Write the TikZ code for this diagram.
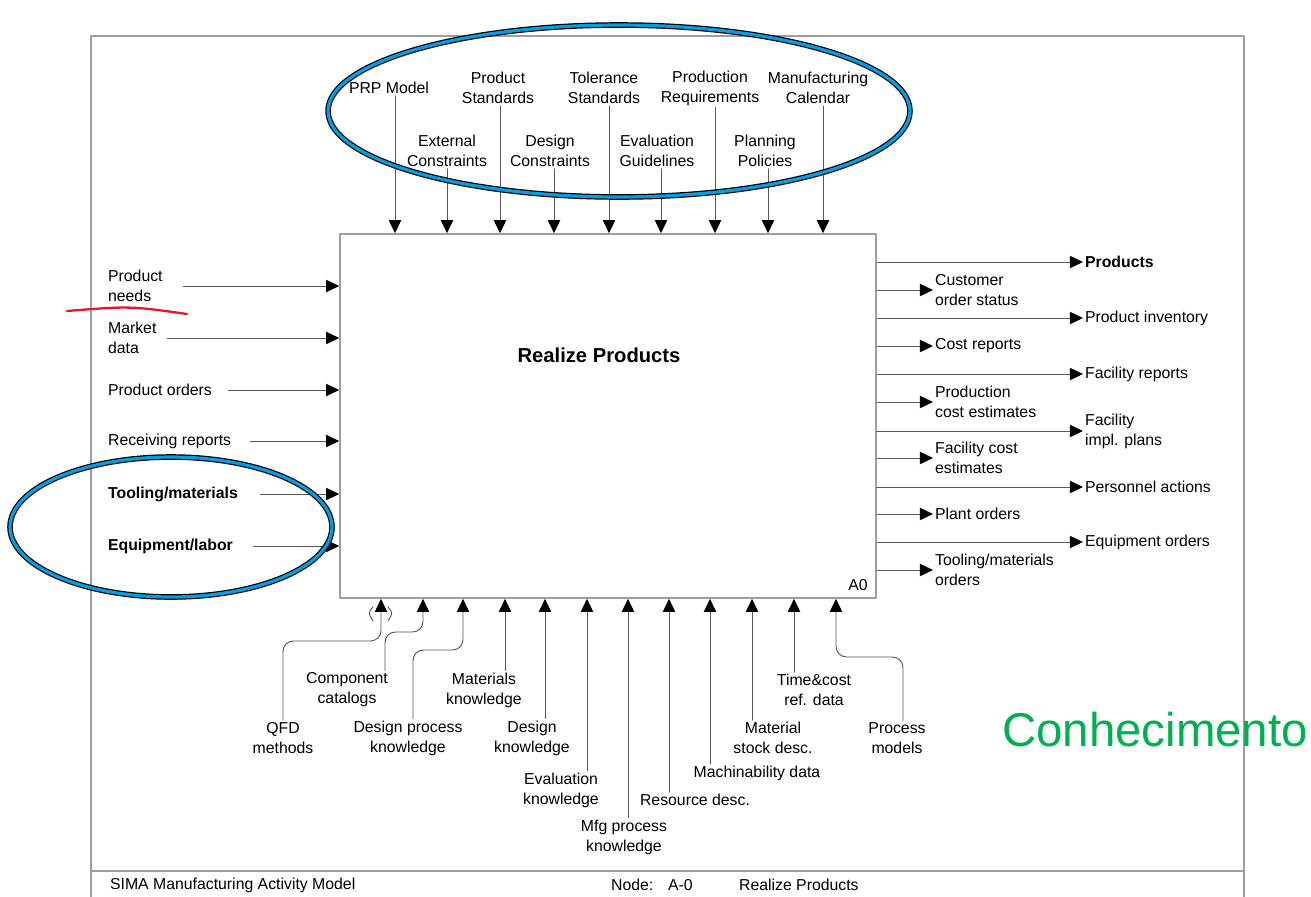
\documentclass[tikz,border=0pt]{standalone}
\usepackage{fontspec}
\setmainfont{Liberation Sans}
\usetikzlibrary{arrows.meta}
\definecolor{lin}{gray}{0.35}
\definecolor{frm}{gray}{0.62}
\definecolor{hlblue}{RGB}{0,160,230}
\definecolor{mkred}{RGB}{232,20,40}
\definecolor{mkgreen}{RGB}{0,176,80}

\begin{document}
\begin{tikzpicture}[line cap=round,line join=round,>={Triangle[length=7.5pt,width=7pt,color=black]},x=0.02cm,y=-0.02cm,
  lbl/.style={font=\fontsize{9}{11.4}\selectfont,inner sep=1pt},
  conn/.style={->,color=lin,line width=0.55pt},
  hlring/.style={draw=black,double=hlblue,double distance=1.8pt,line width=0.7pt}]
        \useasboundingbox (0,0) rectangle (1311,896);
        % frame and footer
        \draw[frm,line width=1.2pt] (91,900) -- (91,36) -- (1244,36) -- (1244,900);
        \draw[frm,line width=1.2pt] (91,871) -- (1244,871);
        \node[lbl,anchor=west] (ftitle) at (108,885) {SIMA Manufacturing Activity Model};
        \node[lbl,anchor=west] (fnode) at (609,885) {Node:};
        \node[lbl,anchor=west] (fnum) at (666,885) {A-0};
        \node[lbl,anchor=west] (fname) at (737,885) {Realize Products};
        % activity box
        \node[draw=frm,line width=0.9pt,minimum width=10.72cm,minimum height=7.28cm,inner sep=0pt] (box) at (608,416) {};
        \node[font=\fontsize{11.5}{14}\selectfont\bfseries] (title) at (599,355) {Realize Products};
        \node[lbl] (a0) at (858,585) {A0};
        % controls
        \foreach \n/\lx/\ly/\ax/\txt in {prp/389/88/395/{PRP Model}, pstd/498/88/500/{Product\\Standards},
            tstd/604/88/609/{Tolerance\\Standards}, preq/710/88/715/{Production\\Requirements},
            mcal/818/88/823/{Manufacturing\\Calendar}, extc/447/151/447/{External\\Constraints},
            dcon/550/151/554/{Design\\Constraints}, evgl/657/151/661/{Evaluation\\Guidelines},
            ppol/765/151/768/{Planning\\Policies}}{
          \node[lbl,align=center] (\n) at (\lx,\ly) {\txt};
          \coordinate (\n-t) at (\ax,0);
          \draw[conn] (\n.south -| \n-t) -- (\n-t |- box.north);
        }
        % inputs
        \foreach \n/\ly/\sx/\txt in {pneeds/286/183/{Product\\needs}, mdata/338/167/{Market\\data},
            porders/390/228/{Product orders}, rrep/441/250/{Receiving reports},
            tool/494/260/{\textbf{Tooling/materials}}, equip/546/253/{\textbf{Equipment/labor}}}{
          \node[lbl,align=left,anchor=west] (\n) at (106,\ly) {\txt};
          \coordinate (\n-s) at (\sx,\ly);
          \draw[conn] (\n-s) -- (\n-s -| box.west);
        }
        % outputs
        \foreach \n/\ly/\lx/\txt in {prod/262/1083/{\textbf{Products}}, cstat/290/933/{Customer\\order status},
            pinv/318/1083/{Product inventory}, crep/346/933/{Cost reports},
            frep/374/1083/{Facility reports}, pcost/402/933/{Production\\cost estimates},
            fimpl/431/1083/{Facility\\impl. plans}, fcost/458/933/{Facility cost\\estimates},
            pers/487/1083/{Personnel actions}, plant/514/933/{Plant orders},
            eqord/542/1083/{Equipment orders}, tmord/570/933/{Tooling/materials\\orders}}{
          \node[lbl,align=left,anchor=west] (\n) at (\lx,\ly) {\txt};
          \draw[conn] (\n.west -| box.east) -- (\n.west);
        }
        % mechanisms
        \foreach \n/\lx/\ly/\ax/\txt in {matk/484/690/505/{Materials\\knowledge}, desk/532/738/545/{Design\\knowledge},
            evk/561/790/587/{Evaluation\\knowledge}, mfgk/624/837/628/{Mfg process\\knowledge},
            resd/695/800/669/{Resource desc.}, mach/757/773/710/{Machinability data},
            mstk/773/738/752/{Material\\stock desc.}, tcost/814/690/794/{Time\&cost\\ref. data}}{
          \node[lbl,align=center] (\n) at (\lx,\ly) {\txt};
          \coordinate (\n-t) at (\ax,0);
          \draw[conn] (\n.north -| \n-t) -- (\n-t |- box.south);
        }
        \node[lbl,align=center] (qfd) at (283,738) {QFD\\methods};
        \coordinate (qfd-t) at (381,641);
        \draw[conn,rounded corners=6pt] (qfd.north) |- (qfd-t) -- (qfd-t |- box.south);
        \draw[lin,line width=0.55pt] (373,607) .. controls (368,613) .. (373,621);
        \draw[lin,line width=0.55pt] (388,607) .. controls (393,613) .. (388,621);
        \node[lbl,align=center] (comp) at (347,690) {Component\\catalogs};
        \coordinate (comp-s) at (385,0);
        \coordinate (comp-t) at (423,632);
        \draw[conn,rounded corners=6pt] (comp.north -| comp-s) |- (comp-t) -- (comp-t |- box.south);
        \node[lbl,align=center] (dpk) at (408,738) {Design process\\knowledge};
        \coordinate (dpk-s) at (413,0);
        \coordinate (dpk-t) at (463,650);
        \draw[conn,rounded corners=6pt] (dpk.north -| dpk-s) |- (dpk-t) -- (dpk-t |- box.south);
        \node[lbl,align=center] (pmod) at (897,738) {Process\\models};
        \coordinate (pmod-s) at (903,0);
        \coordinate (pmod-t) at (836,657);
        \draw[conn,rounded corners=6pt] (pmod.north -| pmod-s) |- (pmod-t) -- (pmod-t |- box.south);
        % highlights
        \draw[hlring] (619,111) ellipse [x radius=5.82cm,y radius=1.72cm];
        \draw[hlring] (171,527) ellipse [x radius=3.22cm,y radius=1.4cm];
        \draw[mkred,line width=1.3pt] (67,311) .. controls (130,306) .. (187,314);
        \node[text=mkgreen,font=\fontsize{27}{30}\selectfont] (know) at (1155,730) {Conhecimento};
      \end{tikzpicture}
\end{document}
